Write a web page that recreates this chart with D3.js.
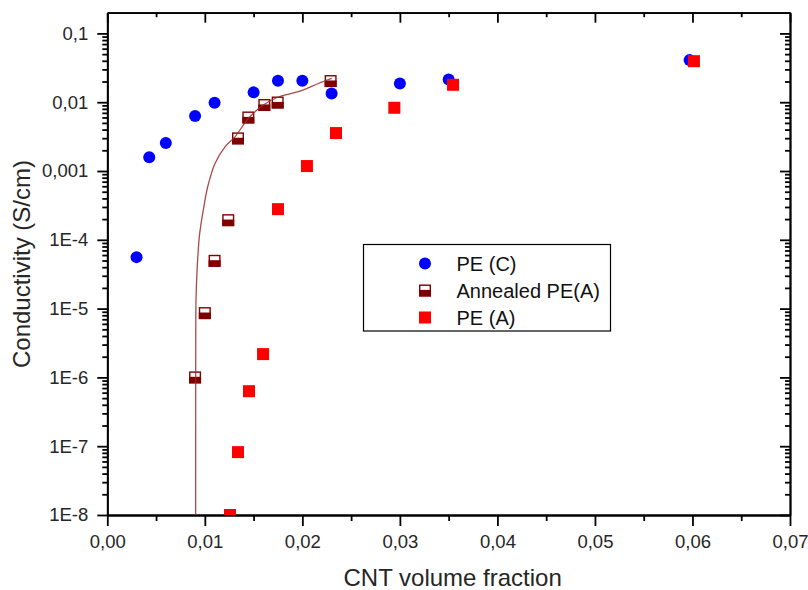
<!DOCTYPE html>
<html>
<head>
<meta charset="utf-8">
<script src="https://cdn.jsdelivr.net/npm/d3@7"></script>
<style>
  body { margin: 0; background: #fff; }
  svg { display: block; font-family: "Liberation Sans", Arial, sans-serif; }
</style>
</head>
<body>
<svg id="chart" width="808" height="590"></svg>
<script>
// ---- data ----
const peC_x = [0.003, 0.0043, 0.006, 0.009, 0.011, 0.015, 0.0175, 0.020, 0.023, 0.030, 0.035, 0.0597];
const peC_y = [5.6e-5, 1.59e-3, 2.55e-3, 6.3e-3, 9.8e-3, 1.39e-2, 2.05e-2, 2.05e-2, 1.34e-2, 1.87e-2, 2.14e-2, 4.09e-2];

const annealed_x = [0.009, 0.010, 0.011, 0.0124, 0.0134, 0.01446, 0.0161, 0.01747, 0.0229];
const annealed_y = [1.0e-6, 8.6e-6, 4.95e-5, 1.93e-4, 2.98e-3, 6.0e-3, 9.1e-3, 9.9e-3, 2.03e-2];

const peA_x = [0.01258, 0.0134, 0.01453, 0.01597, 0.0175, 0.02047, 0.02345, 0.02943, 0.03545, 0.06015];
const peA_y = [1.0e-8, 8.2e-8, 6.3e-7, 2.18e-6, 2.79e-4, 1.18e-3, 3.56e-3, 8.3e-3, 1.79e-2, 3.95e-2];

// fitted curve for Annealed PE(A)
const fit_x = [0.00906, 0.009064, 0.00907, 0.009095, 0.009218, 0.009453, 0.009843, 0.010294, 0.011043, 0.012068, 0.013093, 0.014457, 0.015995, 0.017533, 0.019584, 0.021634, 0.023009];
const fit_y = [1e-8, 4.7e-7, 3.0e-6, 1.33e-5, 3.94e-5, 1.17e-4, 2.7e-4, 5.9e-4, 1.29e-3, 2.25e-3, 3.14e-3, 5.8e-3, 9.1e-3, 1.19e-2, 1.42e-2, 1.87e-2, 2.22e-2];

const xMajor = [0, 0.01, 0.02, 0.03, 0.04, 0.05, 0.06, 0.07];
const xMajorLabels = ["0,00", "0,01", "0,02", "0,03", "0,04", "0,05", "0,06", "0,07"];
const xMinor = [0.005, 0.015, 0.025, 0.035, 0.045, 0.055, 0.065];
const yMajor = [1e-8, 1e-7, 1e-6, 1e-5, 1e-4, 1e-3, 1e-2, 1e-1];
const yMajorLabels = ["1E-8", "1E-7", "1E-6", "1E-5", "1E-4", "0,001", "0,01", "0,1"];
const xDomain = [0, 0.07];
const yDomain = [1e-8, 0.2];

const seriesNames = ["PE (C)", "Annealed PE(A)", "PE (A)"];
const xTitle = "CNT volume fraction";
const yTitle = "Conductivity (S/cm)";

// ---- layout ----
const L = 107.3, R = 790, T = 12.7, B = 515;
const svg = d3.select("#chart");
const x = d3.scaleLinear().domain(xDomain).range([L, R]);
const y = d3.scaleLog().domain(yDomain).range([B, T]);

const yMinor = [];
yMajor.forEach(d => { for (let m = 2; m <= 9; m++) { const v = d * m; if (v < yDomain[1]) yMinor.push(v); } });

const AX = "#000", LW = 1.8, TXT = "#262626";

function styleAxis(g) {
  g.select(".domain").attr("stroke", AX).attr("stroke-width", LW);
  g.selectAll(".tick line").attr("stroke", AX).attr("stroke-width", LW);
  g.selectAll(".tick text").attr("fill", TXT).style("font-size", "18.5px");
}

// minor ticks first
svg.append("g").attr("transform", `translate(0,${B})`)
  .call(d3.axisBottom(x).tickValues(xMinor).tickSize(6).tickSizeOuter(0).tickFormat(""))
  .call(styleAxis);
svg.append("g").attr("transform", `translate(0,${T})`)
  .call(d3.axisTop(x).tickValues(xMinor).tickSize(-4.5).tickSizeOuter(0).tickFormat(""))
  .call(styleAxis);
svg.append("g").attr("transform", `translate(${L},0)`)
  .call(d3.axisLeft(y).tickValues(yMinor).tickSize(5).tickSizeOuter(0).tickFormat(""))
  .call(styleAxis);
svg.append("g").attr("transform", `translate(${R},0)`)
  .call(d3.axisRight(y).tickValues(yMinor).tickSize(-5).tickSizeOuter(0).tickFormat(""))
  .call(styleAxis);

// major ticks
svg.append("g").attr("transform", `translate(0,${B})`)
  .call(d3.axisBottom(x).tickValues(xMajor).tickSize(11).tickSizeOuter(0).tickPadding(9)
    .tickFormat((d, i) => xMajorLabels[i]))
  .call(styleAxis);
svg.append("g").attr("transform", `translate(0,${T})`)
  .call(d3.axisTop(x).tickValues(xMajor).tickSize(-10).tickSizeOuter(0).tickFormat(""))
  .call(styleAxis);
svg.append("g").attr("transform", `translate(${L},0)`)
  .call(d3.axisLeft(y).tickValues(yMajor).tickSize(10).tickSizeOuter(0).tickPadding(9)
    .tickFormat((d, i) => yMajorLabels[i]))
  .call(styleAxis);
svg.append("g").attr("transform", `translate(${R},0)`)
  .call(d3.axisRight(y).tickValues(yMajor).tickSize(-10).tickSizeOuter(0).tickFormat(""))
  .call(styleAxis);

// axis titles
svg.append("text").attr("x", (L + R) / 2 + 4).attr("y", 586)
  .attr("text-anchor", "middle").attr("fill", TXT).style("font-size", "24px").text(xTitle);
svg.append("text").attr("transform", "translate(30,264) rotate(-90)")
  .attr("text-anchor", "middle").attr("fill", TXT).style("font-size", "24px").text(yTitle);

// clip
svg.append("clipPath").attr("id", "plotclip").append("rect")
  .attr("x", L).attr("y", T).attr("width", R - L).attr("height", B - T);
const plot = svg.append("g").attr("clip-path", "url(#plotclip)");

const BLUE = "#0000ff", RED = "#ff0000", DARK = "#800000";
const S = 12;

function halfSquare(g, cx, cy, s) {
  g.append("rect").attr("x", cx - s / 2).attr("y", cy - s / 2).attr("width", s).attr("height", s)
    .attr("fill", "#fff");
  g.append("rect").attr("x", cx - s / 2).attr("y", cy - s / 2 + s * 0.45).attr("width", s).attr("height", s * 0.55)
    .attr("fill", DARK);
  g.append("rect").attr("x", cx - s / 2 + 0.7).attr("y", cy - s / 2 + 0.7).attr("width", s - 1.4).attr("height", s - 1.4)
    .attr("fill", "none").attr("stroke", DARK).attr("stroke-width", 1.4);
}

// PE (C)
plot.append("g").selectAll("circle").data(d3.range(peC_x.length)).join("circle")
  .attr("cx", i => x(peC_x[i])).attr("cy", i => y(peC_y[i])).attr("r", 6).attr("fill", BLUE);

// Annealed
const ag = plot.append("g");
annealed_x.forEach((v, i) => halfSquare(ag, x(v), y(annealed_y[i]), S));

// fit line
const line = d3.line().x(i => x(fit_x[i])).y(i => y(fit_y[i])).curve(d3.curveCatmullRom.alpha(0.5));
plot.append("path").attr("d", line(d3.range(fit_x.length)))
  .attr("fill", "none").attr("stroke", "#9a2a2a").attr("stroke-width", 1.3).attr("stroke-opacity", 0.85);

// PE (A)
plot.append("g").selectAll("rect").data(d3.range(peA_x.length)).join("rect")
  .attr("x", i => x(peA_x[i]) - S / 2).attr("y", i => y(peA_y[i]) - S / 2)
  .attr("width", S).attr("height", S).attr("fill", RED);

// legend
const lg = svg.append("g");
lg.append("rect").attr("x", 363.5).attr("y", 244.5).attr("width", 247).attr("height", 86.5)
  .attr("fill", "#fff").attr("stroke", "#000").attr("stroke-width", 1.2);
const rows = [263.5, 290.5, 317.5];
lg.append("circle").attr("cx", 425).attr("cy", rows[0]).attr("r", 6).attr("fill", BLUE);
halfSquare(lg, 425, rows[1], S);
lg.append("rect").attr("x", 425 - S / 2).attr("y", rows[2] - S / 2).attr("width", S).attr("height", S).attr("fill", RED);
seriesNames.forEach((n, i) => {
  lg.append("text").attr("x", 456.5).attr("y", rows[i] + 7).attr("fill", "#111")
    .style("font-size", "20px").text(n);
});
</script>
</body>
</html>
